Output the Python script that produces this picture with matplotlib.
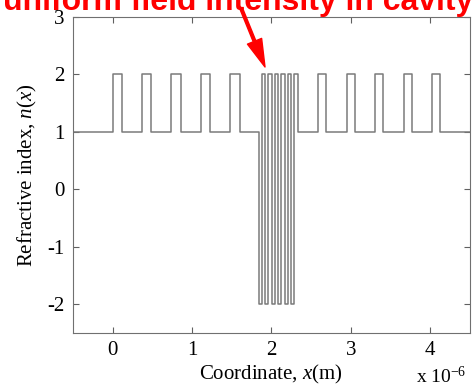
import matplotlib
matplotlib.use('Agg')
import matplotlib.pyplot as plt
import numpy as np

# layer boundaries (micrometres) and refractive index of each layer
edges_um = [-0.5,
            0.0, 0.12, 0.37, 0.49, 0.74, 0.86, 1.11, 1.23, 1.48, 1.60,
            1.84, 1.881, 1.922, 1.963, 2.003, 2.044, 2.085, 2.126, 2.167,
            2.208, 2.249, 2.290, 2.33,
            2.59, 2.69, 2.95, 3.05, 3.31, 3.41, 3.67, 3.77, 4.03, 4.13,
            4.5]
n_layers = [1,
            2, 1, 2, 1, 2, 1, 2, 1, 2, 1,
            -2, 2, -2, 2, -2, 2, -2, 2, -2, 2, -2, 2,
            1,
            2, 1, 2, 1, 2, 1, 2, 1, 2, 1]

xticks = [0, 1, 2, 3, 4]
yticks = [-2, -1, 0, 1, 2, 3]

plt.rcParams['font.family'] = ['Liberation Serif', 'DejaVu Serif']
plt.rcParams['mathtext.fontset'] = 'custom'
plt.rcParams['mathtext.rm'] = 'Liberation Serif'
plt.rcParams['mathtext.it'] = 'Liberation Serif:italic'

fig = plt.figure(figsize=(4.76, 3.91), dpi=100)
ax = fig.add_axes([0.153, 0.148, 0.834, 0.809])

x = np.array(edges_um) * 1e-6
n = np.array(n_layers + [n_layers[-1]])
ax.step(x, n, where='post', color='#7a7a7a', lw=1.1)

ax.set_xlim(-0.5e-6, 4.5e-6)
ax.set_ylim(-2.5, 3)
ax.set_xticks(np.array(xticks) * 1e-6)
ax.set_xticklabels([str(t) for t in xticks])
ax.set_yticks(yticks)
ax.set_yticklabels([str(t) for t in yticks])
ax.tick_params(direction='in', top=True, right=True, length=4,
               labelsize=15, color='#606060', pad=6)
for s in ax.spines.values():
    s.set_color('#707070')

ax.set_xlabel('Coordinate, $\\mathit{x}$(m)', fontsize=15, labelpad=2)
ax.set_ylabel('Refractive index, $\\mathit{n}$($\\mathit{x}$)', fontsize=15, labelpad=6)
fig.text(0.875, 0.01, 'x 10$^{-6}$', fontsize=14, ha='left', va='bottom')

# red annotation at the top
fig.text(0.5, 0.974, 'uniform field intensity in cavity', color='red',
         fontsize=23, fontweight='bold', family='Liberation Sans',
         ha='center', va='baseline')
ax.annotate('', xy=(265, 391 - 67), xycoords='figure pixels',
            xytext=(241, 391 - 8), textcoords='figure pixels',
            arrowprops=dict(facecolor='red', edgecolor='red', width=2,
                            headwidth=11, headlength=20))

fig.savefig('out.png', dpi=100)
